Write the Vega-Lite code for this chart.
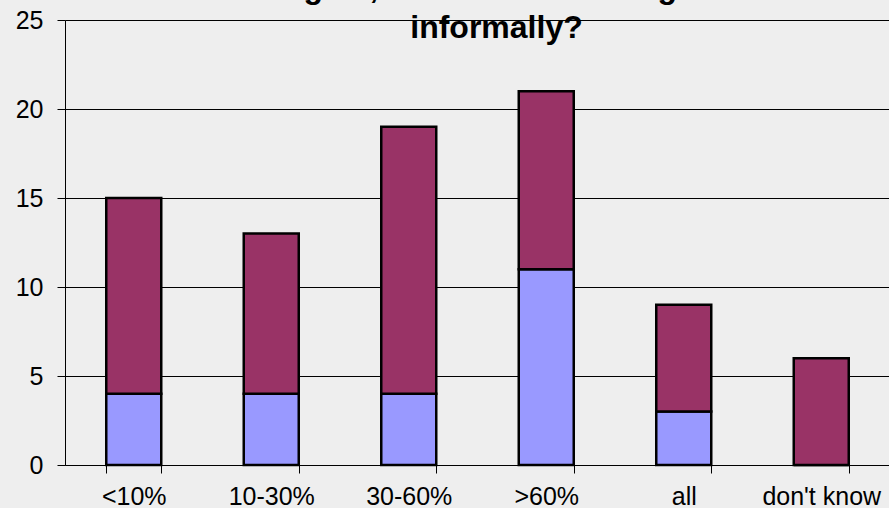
{
  "$schema": "https://vega.github.io/schema/vega-lite/v6.json",
  "autosize": {"type": "none"},
  "padding": {"left": 65, "top": 20, "right": 0, "bottom": 43},
  "width": 825,
  "height": 445,
  "background": "#EEEEEE",
  "title": {
    "text": ["Doing so, how much of it is gained", "informally?"],
    "font": "Liberation Sans",
    "fontSize": 32,
    "fontWeight": "bold",
    "color": "#000000",
    "anchor": "middle",
    "lineHeight": 40,
    "offset": -37,
    "dx": 19
  },
  "data": {
    "values": [
      {"category": "<10%", "group": "lower", "rank": 1, "count": 4},
      {"category": "<10%", "group": "upper", "rank": 2, "count": 11},
      {"category": "10-30%", "group": "lower", "rank": 1, "count": 4},
      {"category": "10-30%", "group": "upper", "rank": 2, "count": 9},
      {"category": "30-60%", "group": "lower", "rank": 1, "count": 4},
      {"category": "30-60%", "group": "upper", "rank": 2, "count": 15},
      {"category": ">60%", "group": "lower", "rank": 1, "count": 11},
      {"category": ">60%", "group": "upper", "rank": 2, "count": 10},
      {"category": "all", "group": "lower", "rank": 1, "count": 3},
      {"category": "all", "group": "upper", "rank": 2, "count": 6},
      {"category": "don't know", "group": "lower", "rank": 1, "count": 0},
      {"category": "don't know", "group": "upper", "rank": 2, "count": 6}
    ]
  },
  "mark": {"type": "bar", "stroke": "#000000", "strokeWidth": 2.5},
  "encoding": {
    "x": {
      "field": "category",
      "type": "nominal",
      "sort": ["<10%", "10-30%", "30-60%", ">60%", "all", "don't know"],
      "scale": {"paddingInner": 0.6, "paddingOuter": 0.3},
      "axis": {
        "title": null,
        "labelAngle": 0,
        "labelFont": "Liberation Sans",
        "labelFontSize": 25,
        "labelColor": "#000000",
        "labelPadding": 11,
        "tickBand": "extent",
        "tickSize": 8,
        "tickColor": "#000000",
        "domainColor": "#000000",
        "grid": false
      }
    },
    "y": {
      "field": "count",
      "type": "quantitative",
      "stack": "zero",
      "scale": {"domain": [0, 25], "nice": false},
      "axis": {
        "title": null,
        "values": [0, 5, 10, 15, 20, 25],
        "labelFont": "Liberation Sans",
        "labelFontSize": 25,
        "labelColor": "#000000",
        "labelPadding": 14,
        "tickSize": 8,
        "tickColor": "#000000",
        "domainColor": "#000000",
        "grid": true,
        "gridColor": "#000000",
        "gridOpacity": 1,
        "gridWidth": 1
      }
    },
    "color": {
      "field": "group",
      "type": "nominal",
      "scale": {"domain": ["lower", "upper"], "range": ["#9999FF", "#993366"]},
      "legend": null
    },
    "order": {"field": "rank", "type": "quantitative"}
  },
  "config": {
    "view": {"stroke": null}
  }
}
